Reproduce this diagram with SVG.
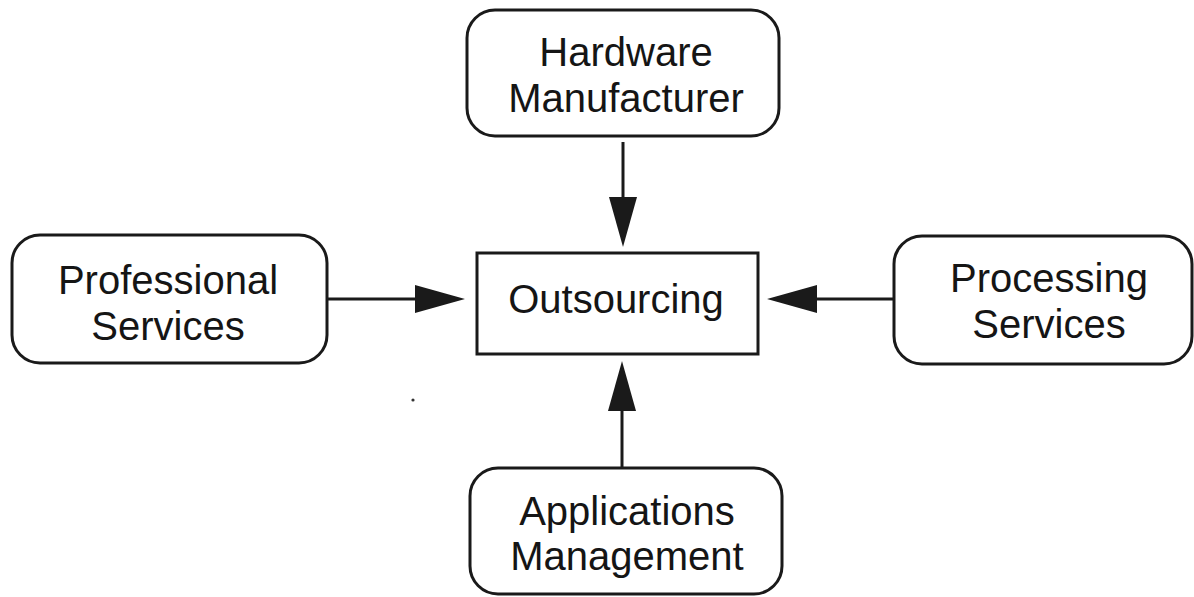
<svg xmlns="http://www.w3.org/2000/svg" width="1194" height="597" viewBox="0 0 1194 597">
<style>
.box{fill:#fff;stroke:#1a1a1a;stroke-width:3}
.lbl{font-family:"Liberation Sans",Arial,sans-serif;font-size:40px;fill:#151515;text-anchor:middle}
.conn{stroke:#1a1a1a;stroke-width:3;fill:none;marker-end:url(#ah)}
</style>
<defs>
<marker id="ah" markerUnits="userSpaceOnUse" viewBox="0 0 50 28" refX="30" refY="14" markerWidth="50" markerHeight="28" orient="auto">
<path d="M0,0 L50,14 L0,28 Z" fill="#1a1a1a"/>
</marker>
</defs>
<rect width="1194" height="597" fill="#fff"/>
<g id="connectors">
<line class="conn" x1="623" y1="142" x2="623" y2="227"/>
<line class="conn" x1="327" y1="299" x2="445" y2="299"/>
<line class="conn" x1="894" y1="299" x2="787" y2="299"/>
<line class="conn" x1="622" y1="468" x2="622" y2="381"/>
</g>
<g id="hardware">
<rect class="box" x="467" y="10" width="312" height="126" rx="28"/>
<text class="lbl" x="626" y="66">Hardware</text>
<text class="lbl" x="626" y="112">Manufacturer</text>
</g>
<g id="professional">
<rect class="box" x="12" y="235" width="315" height="128" rx="28"/>
<text class="lbl" x="168" y="294">Professional</text>
<text class="lbl" x="168" y="340">Services</text>
</g>
<g id="outsourcing">
<rect class="box" x="477" y="253" width="281" height="101"/>
<text class="lbl" x="616" y="313">Outsourcing</text>
</g>
<g id="processing">
<rect class="box" x="894" y="236" width="298" height="128" rx="28"/>
<text class="lbl" x="1049" y="292">Processing</text>
<text class="lbl" x="1049" y="338">Services</text>
</g>
<g id="applications">
<rect class="box" x="470" y="468" width="312" height="126" rx="28"/>
<text class="lbl" x="627" y="525">Applications</text>
<text class="lbl" x="627" y="570">Management</text>
</g>
<circle cx="413" cy="400" r="1.6" fill="#333"/>
</svg>
